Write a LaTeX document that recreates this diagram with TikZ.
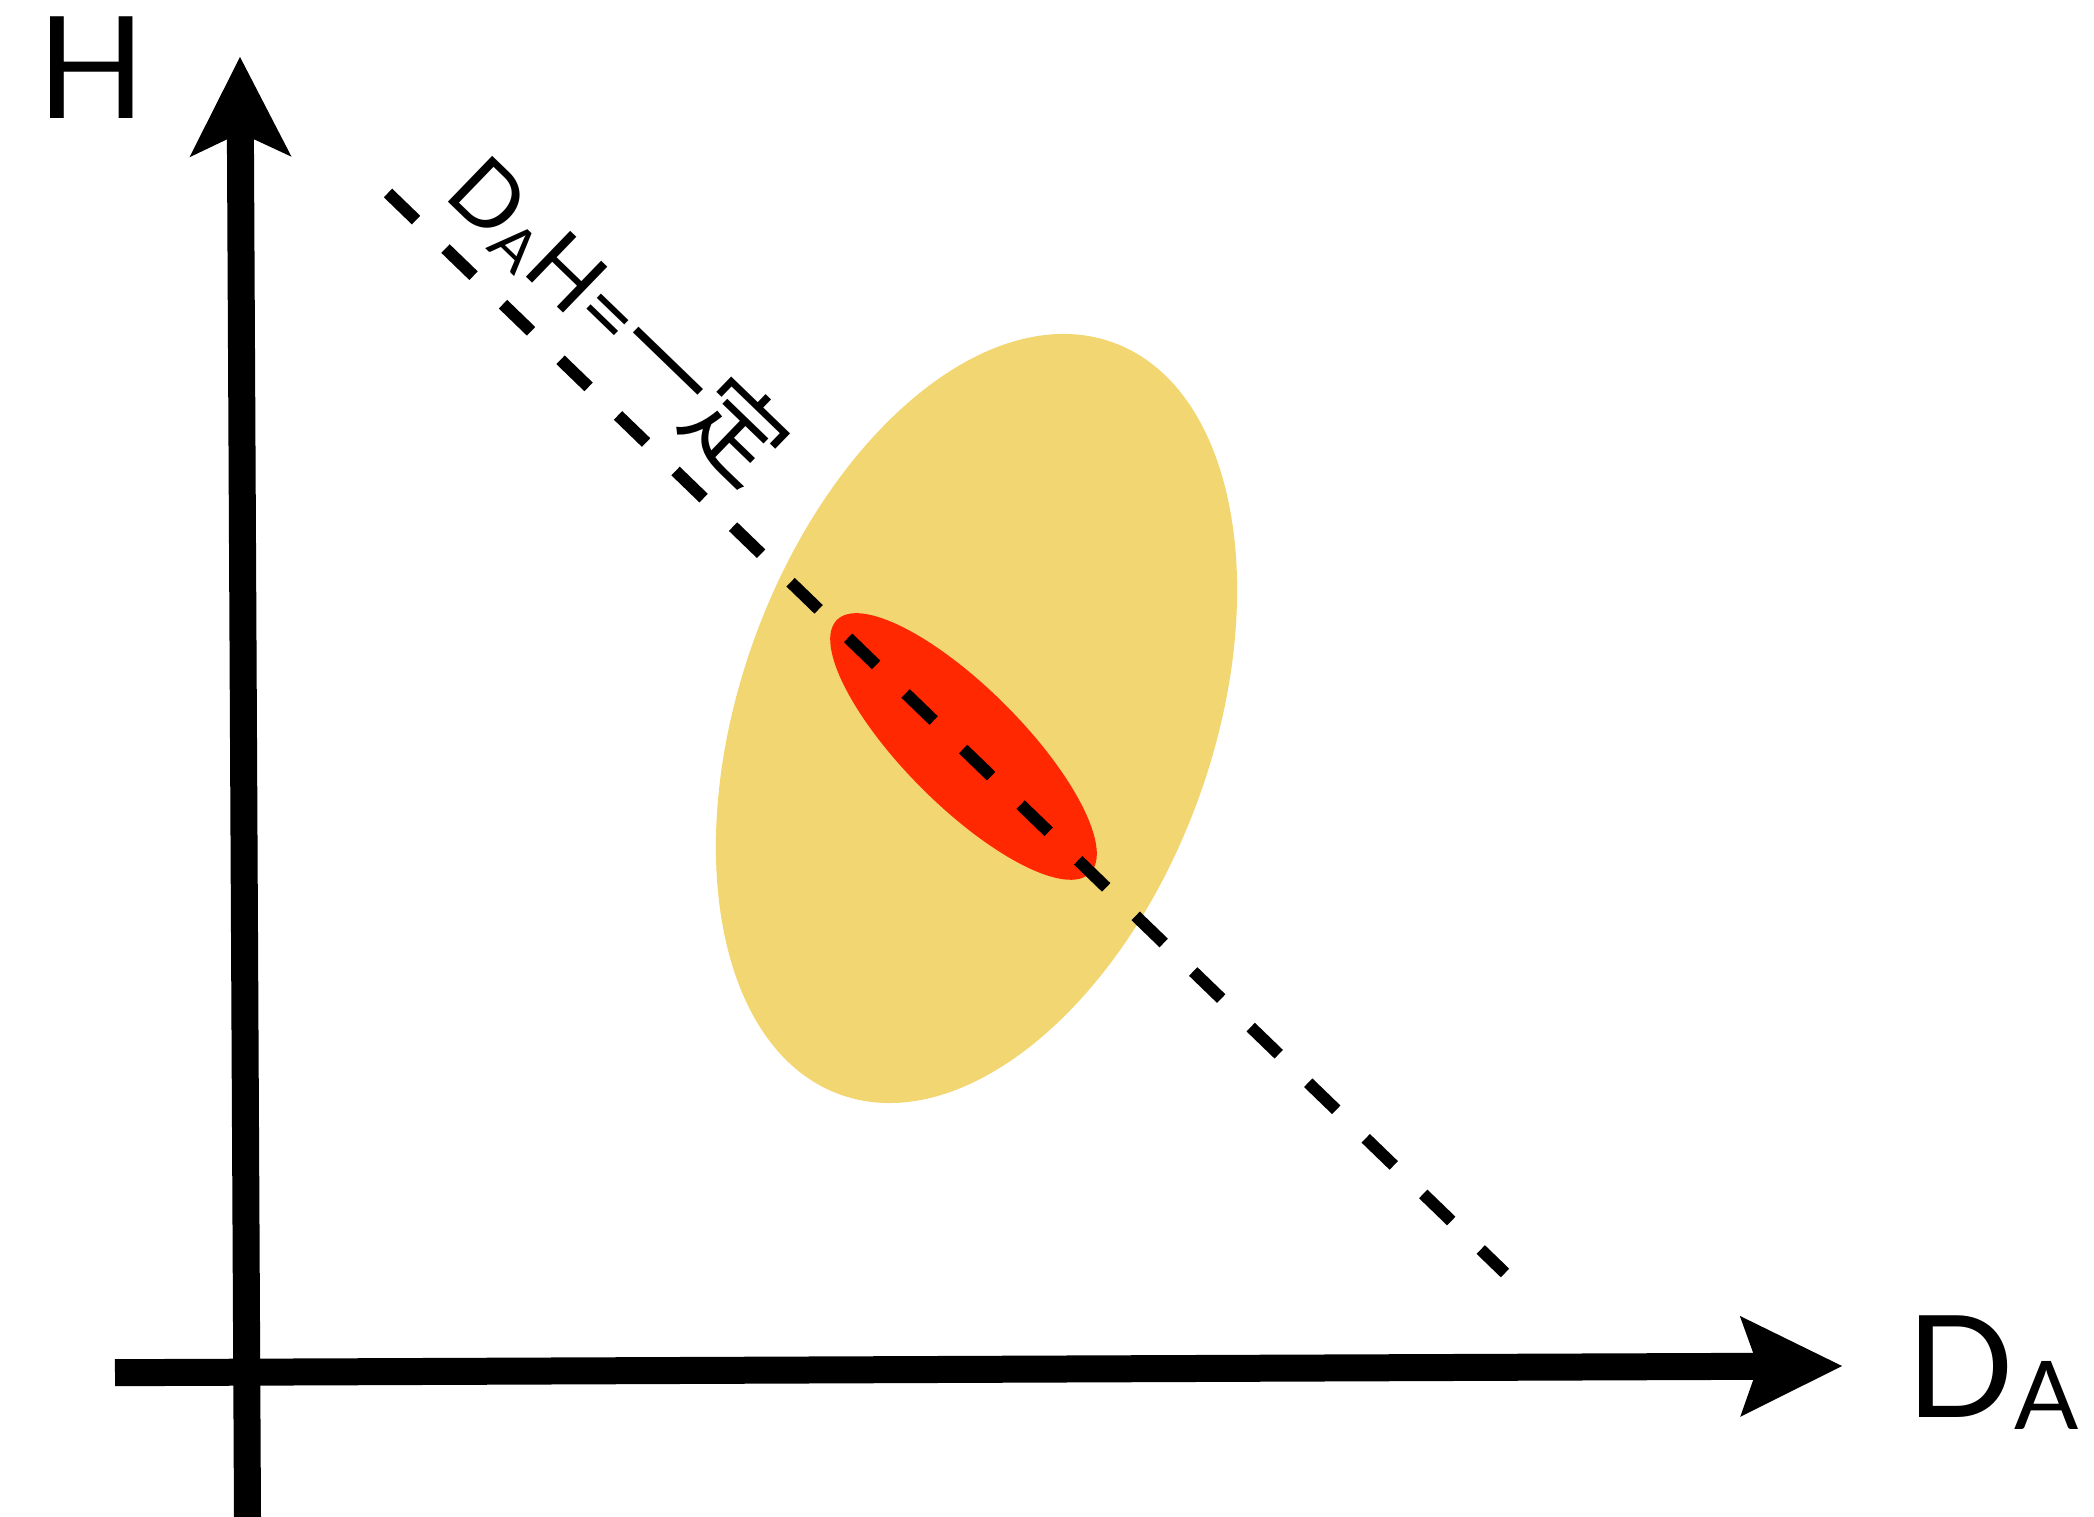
\documentclass[tikz,border=0pt]{standalone}
\usepackage{fontspec}
\setmainfont{Lato}
\newfontfamily\cjk{Noto Sans CJK JP}
\usetikzlibrary{arrows.meta}
\definecolor{ellyellow}{HTML}{F2D672}
\definecolor{ellred}{HTML}{FF2800}
\tikzset{
  axisline/.style={line width=27pt, line cap=butt},
  vtip/.style={-{Stealth[length=100pt,width=102pt,inset=24pt,line width=0pt]}},
  htip/.style={-{Stealth[length=102pt,width=101pt,inset=18pt,line width=0pt]}},
  dashline/.style={line width=12pt, dash pattern=on 39pt off 41pt},
  biglabel/.style={inner sep=0pt, font=\fontsize{142}{142}\selectfont},
  linelabel/.style={inner sep=0pt, font=\fontsize{89}{89}\selectfont}
}
\begin{document}
\begin{tikzpicture}[x=1pt,y=1pt]
\useasboundingbox (0,0) rectangle (2094,1517);
% ellipses
\fill[ellyellow] (976.5,798.5) ellipse [x radius=400, y radius=236, rotate=70];
\fill[ellred] (963.5,770.5) ellipse [x radius=179, y radius=59, rotate=-45];
% dashed line
\coordinate (ds) at (388,1324);
\coordinate (de) at (1505,244);
\draw[dashline] (ds) -- (de);
% axes
\coordinate (vb) at (247.5,0);
\coordinate (vt) at (240,1460);
\coordinate (hl) at (115,144.3);
\coordinate (hr) at (1842,151);
\draw[axisline, vtip] (vb) -- (vt);
\draw[axisline, htip] (hl) -- (hr);
% labels
\node[biglabel, anchor=base west] (hlab) at (37,1398) {H};
\node[biglabel, anchor=base west] (dlab) at (1906,99) {D\raisebox{-12pt}{\fontsize{95}{95}\selectfont A}};
\node[linelabel, anchor=base west, rotate=-44] (llab) at (442,1321)
  {D\raisebox{-7.5pt}{\fontsize{60}{60}\selectfont A}H={\cjk\fontsize{98}{98}\selectfont 一定}};
\end{tikzpicture}
\end{document}
